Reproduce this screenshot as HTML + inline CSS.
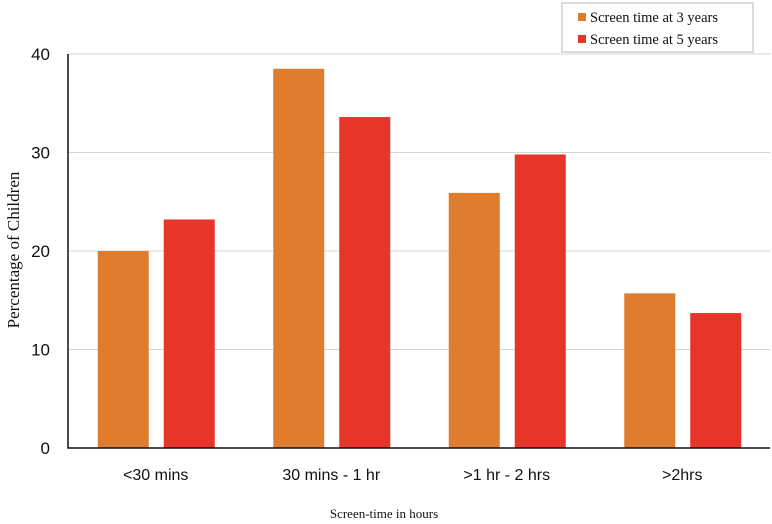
<!DOCTYPE html>
<html><head><meta charset="utf-8"><style>
body{margin:0;background:#fff;}
svg{display:block;}
</style></head><body>
<svg id="chart" width="772" height="524" xmlns="http://www.w3.org/2000/svg"></svg>
<script>
const categories = ["<30 mins", "30 mins - 1 hr", ">1 hr - 2 hrs", ">2hrs"];
const series3 = [20.0, 38.5, 25.9, 15.7];
const series5 = [23.2, 33.6, 29.8, 13.7];
const yTicks = [0, 10, 20, 30, 40];
const seriesNames = ["Screen time at 3 years", "Screen time at 5 years"];

const NS = "http://www.w3.org/2000/svg";
const svg = document.getElementById("chart");
const x0 = 68, x1 = 770, yTop = 54, yBot = 448, yMax = 40;
const band = (x1 - x0) / categories.length;
const yS = v => yBot - (v / yMax) * (yBot - yTop);
function mk(tag, attrs, parent) {
  const e = document.createElementNS(NS, tag);
  for (const k in attrs) e.setAttribute(k, attrs[k]);
  (parent || svg).appendChild(e);
  return e;
}
// gridlines and y ticks
yTicks.forEach(t => {
  const y = yS(t);
  if (t > 0) {
    const g = mk("line", {x1: x0, x2: x1, y1: y, y2: y, stroke: "#d4d4d4", "stroke-width": 1});
    
    
  }
  const tx = mk("text", {x: 50, y: y + 6, "text-anchor": "end", "font-family": "Liberation Sans, sans-serif", "font-size": 17, fill: "#111"});
  tx.textContent = t;
  
  
});
// bars
const colors = ["#E07C2E", "#E8352A"];
categories.forEach((c, i) => {
  const cx = x0 + band * (i + 0.5);
  [series3, series5].forEach((s, j) => {
    const bx = j === 0 ? cx - 58 : cx + 8;
    const r = mk("rect", {x: bx, y: yS(s[i]), width: 51, height: yBot - yS(s[i]), fill: colors[j]});
    
    
  });
  const tx = mk("text", {x: cx, y: 480, "text-anchor": "middle", "font-family": "Liberation Sans, sans-serif", "font-size": 16, fill: "#111"});
  tx.textContent = c;
  
  
});
// axes
const ax = mk("path", {d: `M${x0},${yTop} V${yBot} H${x1}`, stroke: "#111", "stroke-width": 1.5, fill: "none"});


// axis titles
const yt = mk("text", {x: 0, y: 0, transform: "translate(19,250) rotate(-90)", "text-anchor": "middle", "font-family": "Liberation Serif, serif", "font-size": 17, fill: "#111"});
yt.textContent = "Percentage of Children";


const xt = mk("text", {x: 384, y: 518, "text-anchor": "middle", "font-family": "Liberation Serif, serif", "font-size": 13, fill: "#111"});
xt.textContent = "Screen-time in hours";


// legend
const lg = mk("g", {});


mk("rect", {x: 562, y: 3, width: 191, height: 49, fill: "#fff", stroke: "#d0d0d0", "stroke-width": 1.5}, lg);
seriesNames.forEach((n, j) => {
  const y = 17 + j * 22;
  const it = mk("g", {}, lg);
  
  
  mk("rect", {x: 578, y: y - 4, width: 8, height: 8, fill: colors[j]}, it);
  const t = mk("text", {x: 590, y: y + 5, "font-family": "Liberation Serif, serif", "font-size": 14.5, fill: "#111"}, it);
  t.textContent = n;
});
</script>
</body></html>
